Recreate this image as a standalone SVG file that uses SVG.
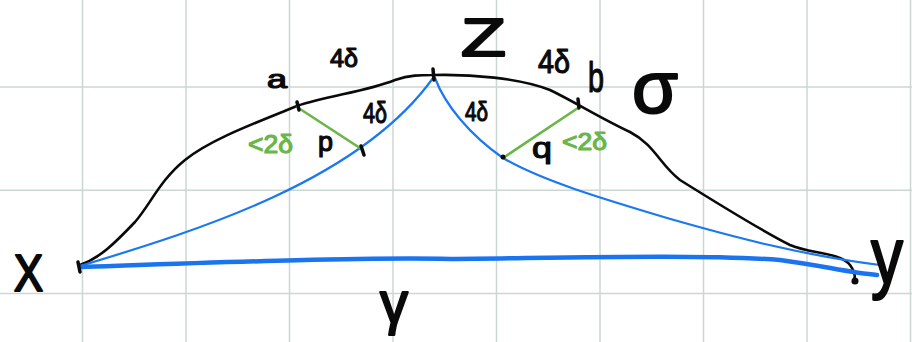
<svg xmlns="http://www.w3.org/2000/svg" width="912" height="342" viewBox="0 0 912 342">
<style>
.grid{stroke:#cbd7d3;stroke-width:1.5}
.bk{fill:none;stroke:#0a0a0a;stroke-width:2.6;stroke-linecap:round;stroke-linejoin:round}
.bt{fill:none;stroke:#1a78f0;stroke-width:2.2;stroke-linecap:round}
.bT{fill:none;stroke:#1a74f0;stroke-width:4.5;stroke-linecap:round}
.gr{fill:none;stroke:#6ab648;stroke-width:2.6;stroke-linecap:round}
.tick{fill:none;stroke:#0a0a0a;stroke-width:3.5;stroke-linecap:round}
.t{font-family:"Liberation Sans","DejaVu Sans",sans-serif;fill:#0a0a0a;stroke:#0a0a0a;stroke-width:1.2;stroke-linejoin:round}
.big{stroke-width:2.2}
.g{font-family:"Liberation Sans","DejaVu Sans",sans-serif;fill:#6ab648;stroke:#6ab648;stroke-width:1.2;stroke-linejoin:round}
</style>
<rect width="912" height="342" fill="#ffffff"/>
<g id="grid">
<line class="grid" x1="82.5" y1="0" x2="82.5" y2="342"/>
<line class="grid" x1="186" y1="0" x2="186" y2="342"/>
<line class="grid" x1="289.5" y1="0" x2="289.5" y2="342"/>
<line class="grid" x1="393" y1="0" x2="393" y2="342"/>
<line class="grid" x1="496.5" y1="0" x2="496.5" y2="342"/>
<line class="grid" x1="600" y1="0" x2="600" y2="342"/>
<line class="grid" x1="703.5" y1="0" x2="703.5" y2="342"/>
<line class="grid" x1="807" y1="0" x2="807" y2="342"/>
<line class="grid" x1="910.5" y1="0" x2="910.5" y2="342"/>
<line class="grid" x1="0" y1="87" x2="912" y2="87"/>
<line class="grid" x1="0" y1="190.3" x2="912" y2="190.3"/>
<line class="grid" x1="0" y1="293.6" x2="912" y2="293.6"/>
</g>
<g id="connectors">
<path id="sigma-path" class="bk" d="M 80,265 C 100,258 115,243 135,222 C 150,205 160,180 185,160 C 210,140 250,125 297,106 C 330,95 365,92 395,80 C 410,75 420,75 433,75 C 470,74 520,78 550,90 C 575,102 600,118 630,132 C 655,145 660,165 680,180 C 720,205 760,230 790,245 C 810,254 840,252 850,265 C 855,272 856,278 853,282"/>
<path id="xz" class="bt" d="M 80,266 C 200,230 360,180 433,78"/>
<path id="zy" class="bt" d="M 435,78 C 445,105 470,135 503,158 C 540,180 600,198 667,218 C 730,236 800,255 880,265"/>
<path id="gamma-path" class="bT" d="M 80,267 C 200,263 360,257 450,259 C 560,258 700,254 780,260 C 820,265 850,273 877,275"/>
<path id="ap" class="gr" d="M 297,107 L 363,150"/>
<path id="qb" class="gr" d="M 503,158 L 578,108"/>
</g>
<g id="node-X">
<path class="tick" d="M 78,262 L 80,272"/>
<text class="t big" x="14" y="291" font-size="52" textLength="29" lengthAdjust="spacingAndGlyphs">X</text>
</g>
<g id="node-Z">
<path class="tick" d="M 433,69 L 434,80"/>
<text class="t big" x="461" y="56" font-size="54" textLength="45" lengthAdjust="spacingAndGlyphs">Z</text>
</g>
<g id="node-y">
<circle cx="855" cy="281" r="3.5" fill="#0a0a0a"/>
<text class="t big" x="871" y="283" font-size="80" textLength="32" lengthAdjust="spacingAndGlyphs">y</text>
</g>
<g id="node-a">
<path class="tick" d="M 297,102 L 299,110"/>
<text class="t" x="267" y="88" font-size="25" textLength="20" lengthAdjust="spacingAndGlyphs">a</text>
</g>
<g id="node-b">
<path class="tick" d="M 578,99 L 579,108"/>
<text class="t" x="588" y="92" font-size="42" textLength="16" lengthAdjust="spacingAndGlyphs">b</text>
</g>
<g id="node-p">
<path class="tick" d="M 361,146 L 364,155"/>
<text class="t" x="318" y="151" font-size="28" textLength="15" lengthAdjust="spacingAndGlyphs">p</text>
</g>
<g id="node-q">
<circle cx="503" cy="157" r="2.5" fill="#0a0a0a"/>
<text class="t" x="532" y="158" font-size="30" textLength="20" lengthAdjust="spacingAndGlyphs">q</text>
</g>
<g id="labels">
<text class="t big" x="632" y="113" font-size="75" textLength="46" lengthAdjust="spacingAndGlyphs">σ</text>
<text class="t big" x="380" y="323" font-size="60" textLength="28" lengthAdjust="spacingAndGlyphs">γ</text>
<text class="t" x="330" y="67" font-size="26" textLength="28" lengthAdjust="spacingAndGlyphs">4δ</text>
<text class="t" x="538" y="73" font-size="34" textLength="32" lengthAdjust="spacingAndGlyphs">4δ</text>
<text class="t" x="363" y="123" font-size="30" textLength="24" lengthAdjust="spacingAndGlyphs">4δ</text>
<text class="t" x="465" y="121" font-size="27" textLength="23" lengthAdjust="spacingAndGlyphs">4δ</text>
<text class="g" x="248" y="153" font-size="26" textLength="45" lengthAdjust="spacingAndGlyphs">&lt;2δ</text>
<text class="g" x="562" y="150" font-size="24" textLength="45" lengthAdjust="spacingAndGlyphs">&lt;2δ</text>
</g>
</svg>
